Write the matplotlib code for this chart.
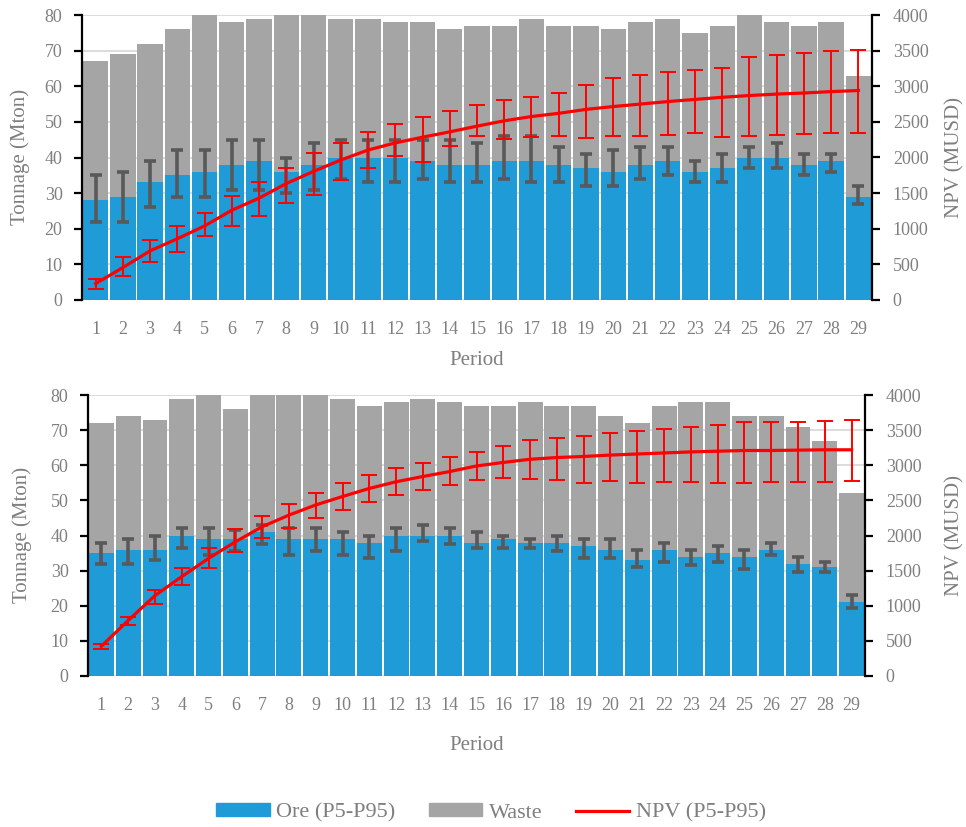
import numpy as np
import matplotlib
matplotlib.use("Agg")
import matplotlib.pyplot as plt
from matplotlib.patches import Patch
from matplotlib.lines import Line2D

plt.rcParams['font.family'] = ['Liberation Serif', 'DejaVu Serif']

periods = list(range(1, 30))

# Upper schedule
ore_a = [28, 29, 33, 35, 36, 38, 39, 36, 38, 40, 40, 40, 39, 38, 38,
         39, 39, 38, 37, 36, 38, 39, 36, 37, 40, 40, 38, 39, 29]
waste_a = [39, 40, 39, 41, 44, 40, 40, 44, 42, 39, 39, 38, 39, 38, 39,
           38, 40, 39, 40, 40, 40, 40, 39, 40, 40, 38, 39, 39, 34]
ore_p5_a = [22, 22, 26, 29, 29, 31, 31, 30, 31, 34, 33, 33, 34, 33, 33,
            34, 33, 33, 32, 32, 34, 35, 33, 33, 37, 37, 35, 36, 27]
ore_p95_a = [35, 36, 39, 42, 42, 45, 45, 40, 44, 45, 45, 45, 45, 45, 44,
             46, 46, 43, 41, 42, 43, 43, 39, 41, 43, 44, 41, 41, 32]
npv_a = [230, 455, 690, 860, 1040, 1260, 1430, 1635, 1805, 1965, 2105, 2205,
         2285, 2360, 2440, 2515, 2575, 2620, 2675, 2715, 2750, 2785, 2815,
         2845, 2870, 2890, 2905, 2925, 2940]
npv_p5_a = [160, 340, 540, 680, 900, 1045, 1185, 1355, 1480, 1690, 1850, 2020,
            1935, 2165, 2300, 2265, 2290, 2295, 2275, 2295, 2300, 2315, 2350,
            2285, 2300, 2320, 2335, 2345, 2345]
npv_p95_a = [290, 600, 840, 1040, 1225, 1460, 1655, 1855, 2065, 2208, 2353, 2465,
             2564, 2650, 2730, 2800, 2855, 2910, 3020, 3115, 3155, 3200, 3235,
             3260, 3410, 3435, 3460, 3490, 3515]

# Lower schedule
ore_b = [35, 36, 36, 40, 39, 39, 41, 39, 39, 39, 38, 40, 40, 40, 38,
         39, 38, 38, 37, 36, 33, 36, 34, 35, 34, 36, 32, 31, 21]
waste_b = [37, 38, 37, 39, 41, 37, 39, 41, 41, 40, 39, 38, 39, 38, 39,
           38, 40, 39, 40, 38, 39, 41, 44, 43, 40, 38, 39, 36, 31]
ore_p5_b = [32, 32, 33, 36.5, 34.5, 35.5, 37.5, 34.5, 35.5, 34.5, 33.5, 35.5,
            38.5, 37.5, 36.5, 36.5, 36.5, 35.5, 33.5, 33.5, 31, 32.5, 31.5,
            32.5, 30.5, 34.5, 29.5, 29.5, 19.5]
ore_p95_b = [38, 39, 40, 42, 42, 41.5, 43, 42, 42, 41, 40, 42, 43, 42, 41,
             40, 39, 40, 39, 39, 36, 38, 36, 37, 36, 38, 34, 32.5, 23]
npv_b = [425, 790, 1145, 1415, 1675, 1910, 2125, 2290, 2435, 2555, 2670, 2765,
         2840, 2910, 2990, 3040, 3085, 3110, 3125, 3145, 3160, 3175, 3190,
         3200, 3210, 3210, 3215, 3220, 3220]
npv_p5_b = [380, 725, 1020, 1295, 1535, 1760, 1960, 2100, 2245, 2365, 2470, 2575,
            2650, 2720, 2785, 2825, 2800, 2790, 2750, 2775, 2745, 2765, 2765,
            2745, 2750, 2765, 2765, 2765, 2775]
npv_p95_b = [450, 835, 1230, 1535, 1815, 2090, 2280, 2445, 2610, 2745, 2860, 2960,
             3035, 3120, 3195, 3280, 3360, 3385, 3415, 3465, 3490, 3520, 3550,
             3575, 3610, 3620, 3620, 3630, 3645]

ORE_C = '#1f9bd7'
WASTE_C = '#a5a5a5'
ERR_C = '#595959'
NPV_C = '#ff0000'
TXT_C = '#7f7f7f'
GRID_C = '#d9d9d9'

W, H = 966, 827
fig = plt.figure(figsize=(W / 100, H / 100), dpi=100)


def px_axes(l, t, r, b):
    return fig.add_axes([l / W, 1 - b / H, (r - l) / W, (b - t) / H])


def panel(ax, ore, waste, lo, hi, npv, nlo, nhi):
    x = np.array(periods)
    ore = np.array(ore, float)
    ax.bar(x, ore, width=0.93, color=ORE_C, zorder=2)
    ax.bar(x, waste, width=0.93, bottom=ore, color=WASTE_C, zorder=2)
    ax.errorbar(x, ore, yerr=[ore - np.array(lo), np.array(hi) - ore],
                fmt='none', ecolor=ERR_C, elinewidth=2.6, capsize=4.5,
                capthick=2.6, zorder=3)
    ax.set_xlim(0.5, 29.5)
    ax.set_ylim(0, 80)
    ax.set_yticks(range(0, 81, 10))
    ax.set_xticks(x)
    ax.grid(axis='y', color=GRID_C, lw=1.3, zorder=0)
    ax.set_axisbelow(True)
    for s in ('top', 'right', 'bottom'):
        ax.spines[s].set_visible(False)
    ax.spines['left'].set_linewidth(1.6)
    ax.tick_params(axis='y', direction='out', length=6, width=1.6,
                   labelsize=13, labelcolor=TXT_C, pad=8)
    ax.tick_params(axis='x', length=0, labelsize=13, labelcolor=TXT_C, pad=15)

    ax2 = ax.twinx()
    npv = np.array(npv, float)
    ax2.errorbar(x, npv, yerr=[npv - np.array(nlo), np.array(nhi) - npv],
                 fmt='none', ecolor=NPV_C, elinewidth=1.4, capsize=6,
                 capthick=1.4, zorder=4)
    ax2.plot(x, npv, color=NPV_C, lw=2.3, zorder=5)
    ax2.set_ylim(0, 4000)
    ax2.set_yticks(range(0, 4001, 500))
    for s in ('top', 'left', 'bottom'):
        ax2.spines[s].set_visible(False)
    ax2.spines['right'].set_linewidth(1.6)
    ax2.tick_params(axis='y', direction='out', length=6, width=1.6,
                    labelsize=13, labelcolor=TXT_C, pad=9)
    return ax2


ax_a = px_axes(82, 15, 872, 300)
panel(ax_a, ore_a, waste_a, ore_p5_a, ore_p95_a, npv_a, npv_p5_a, npv_p95_a)
ax_b = px_axes(88, 395, 865, 676)
panel(ax_b, ore_b, waste_b, ore_p5_b, ore_p95_b, npv_b, npv_p5_b, npv_p95_b)

lab = dict(color=TXT_C, fontsize=15, ha='center', va='center')
fig.text(20 / W, 1 - 157 / H, 'Tonnage (Mton)', rotation=90, **lab)
fig.text(955 / W, 1 - 157 / H, 'NPV (MUSD)', rotation=90, **lab)
fig.text(477 / W, 1 - 360 / H, 'Period', **lab)
fig.text(22 / W, 1 - 535 / H, 'Tonnage (Mton)', rotation=90, **lab)
fig.text(955 / W, 1 - 535 / H, 'NPV (MUSD)', rotation=90, **lab)
fig.text(477 / W, 1 - 745 / H, 'Period', **lab)

handles = [Patch(color=ORE_C, label='Ore (P5-P95)'),
           Patch(color=WASTE_C, label='Waste'),
           Line2D([], [], color=NPV_C, lw=2.3, label='NPV (P5-P95)')]
leg = fig.legend(handles=handles, loc='center', bbox_to_anchor=(491 / W, 1 - 813 / H),
                 ncol=3, frameon=False, fontsize=16, handlelength=2.4,
                 handleheight=0.5, handletextpad=0.3, columnspacing=1.5)
for t in leg.get_texts():
    t.set_color(TXT_C)

fig.savefig('out.png', dpi=100)
